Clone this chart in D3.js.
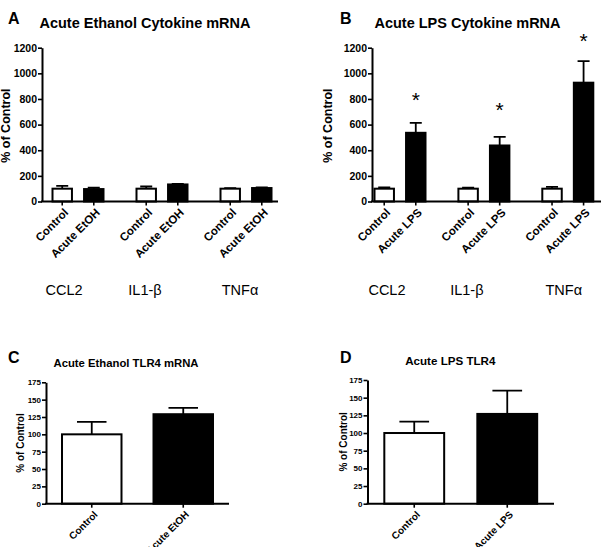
<!DOCTYPE html>
<html>
<head>
<meta charset="utf-8">
<script src="https://cdn.jsdelivr.net/npm/d3@7"></script>
<style>
  html, body { margin: 0; padding: 0; background: #fff; }
  svg { display: block; font-family: "Liberation Sans", Arial, sans-serif; }
</style>
</head>
<body>
<svg id="chart" width="602" height="547"></svg>
<script>
// ---------------- DATA ----------------
const cytokines = ["CCL2", "IL1-β", "TNFα"];
const ethTreatments = ["Control", "Acute EtOH"];
const lpsTreatments = ["Control", "Acute LPS"];
const cytoTicks = [0, 200, 400, 600, 800, 1000, 1200];
const tlrTicks = [0, 25, 50, 75, 100, 125, 150, 175];

// Panel A: acute ethanol cytokine mRNA (% of control) [control, treated] per cytokine
const ethCytoMean = [[100, 97], [100, 133], [100, 105]];
const ethCytoErr  = [[22, 11], [17, 5], [5, 5]];
// Panel B: acute LPS cytokine mRNA
const lpsCytoMean = [[100, 536], [100, 437], [100, 927]];
const lpsCytoErr  = [[10, 78], [8, 68], [14, 169]];
const lpsCytoStar = [818, 740, 1273]; // height of significance asterisk (treated bar)
// Panel C: acute ethanol TLR4 mRNA
const ethTlrMean = [100, 129];
const ethTlrErr  = [18, 9];
// Panel D: acute LPS TLR4
const lpsTlrMean = [100, 127];
const lpsTlrErr  = [16, 33];

// ---------------- DRAW ----------------
const svg = d3.select("#chart");
const FONT = '"Liberation Sans", Arial, sans-serif';
const fmt = d3.format("d");

function styleAxis(g) {
  g.select(".domain").attr("stroke", "#000").attr("stroke-width", 2);
  g.selectAll(".tick line").attr("stroke", "#000").attr("stroke-width", 1.6);
}

function groupedPanel(o) {
  const g = svg.append("g");
  const y = d3.scaleLinear().domain([0, 1200]).range([o.yBottom, o.yTop]);
  const x0 = d3.scaleBand().domain(cytokines).range(o.groupRange).paddingInner(0);
  const x1 = d3.scaleBand().domain(o.treatments).range([15.5, 68.5]).paddingInner(0.32).paddingOuter(0);

  const rows = [];
  cytokines.forEach((c, i) => o.treatments.forEach((t, j) => {
    rows.push({ c, t, j, v: o.mean[i][j], e: o.err[i][j], star: (j === 1 && o.star) ? o.star[i] : null });
  }));
  const bx = d => x0(d.c) + x1(d.t);
  const bw = x1.bandwidth();

  g.selectAll(".err").data(rows).join("path")
    .attr("d", d => {
      const cx = bx(d) + bw / 2, top = y(d.v + d.e), cw = bw * 0.28;
      return `M${cx},${y(d.v)}V${top}M${cx - cw},${top}H${cx + cw}`;
    })
    .attr("stroke", "#000").attr("stroke-width", 1.8).attr("fill", "none");

  g.selectAll(".bar").data(rows).join("rect")
    .attr("x", d => bx(d) + 1).attr("width", bw - 2)
    .attr("y", d => y(d.v)).attr("height", d => y(0) - y(d.v))
    .attr("fill", d => d.j === 0 ? "#fff" : "#000")
    .attr("stroke", "#000").attr("stroke-width", 2);

  g.selectAll(".star").data(rows.filter(d => d.star != null)).join("text")
    .attr("x", d => bx(d) + bw / 2).attr("y", d => y(d.star) + 10)
    .attr("text-anchor", "middle").attr("font-size", 21).attr("font-family", FONT)
    .text("*");

  const ya = g.append("g").attr("transform", `translate(${o.axisX},0)`)
    .call(d3.axisLeft(y).tickValues(cytoTicks).tickFormat(fmt).tickSize(4).tickSizeOuter(0).tickPadding(1));
  styleAxis(ya);
  ya.selectAll("text").attr("font-size", 10.5).attr("font-weight", "bold").attr("font-family", FONT).attr("fill", "#000");

  g.append("line").attr("x1", o.axisX - 1).attr("x2", o.axisEnd)
    .attr("y1", y(0)).attr("y2", y(0)).attr("stroke", "#000").attr("stroke-width", 2);
  g.selectAll(".xt").data(rows).join("line")
    .attr("x1", d => bx(d) + bw / 2).attr("x2", d => bx(d) + bw / 2)
    .attr("y1", y(0)).attr("y2", y(0) + 4).attr("stroke", "#000").attr("stroke-width", 1.6);

  g.selectAll(".xl").data(rows).join("text")
    .attr("transform", d => `translate(${bx(d) + bw / 2 + 4},${y(0) + 9}) rotate(-45)`)
    .attr("text-anchor", "end").attr("dy", "0.35em")
    .attr("font-size", 11.5).attr("font-weight", "bold").attr("font-family", FONT)
    .text(d => d.t);

  g.selectAll(".gl").data(cytokines).join("text")
    .attr("x", (d, i) => x0(d) + x0.bandwidth() / 2 + o.labelShift[i])
    .attr("y", 295)
    .attr("text-anchor", "middle").attr("font-size", 14.5).attr("font-family", FONT)
    .text(d => d);

  g.append("text").attr("transform", `translate(${o.ylabX},${(o.yBottom + o.yTop) / 2 + 1}) rotate(-90)`)
    .attr("text-anchor", "middle").attr("font-size", 12.5).attr("font-weight", "bold").attr("font-family", FONT)
    .text("% of Control");

  g.append("text").attr("x", o.titleX).attr("y", 28).attr("text-anchor", "middle")
    .attr("font-size", 14.5).attr("font-weight", "bold").attr("font-family", FONT).text(o.title);
  g.append("text").attr("x", o.letterX).attr("y", 24)
    .attr("font-size", 16).attr("font-weight", "bold").attr("font-family", FONT).text(o.letter);
}

function simplePanel(o) {
  const g = svg.append("g");
  const y = d3.scaleLinear().domain([0, 175]).range([o.yBottom, o.yTop]);
  const x = d3.scaleBand().domain(o.treatments).range([o.axisX, o.axisEnd]).paddingInner(o.pi).paddingOuter(o.po);
  const bw = x.bandwidth();
  const rows = o.treatments.map((t, j) => ({ t, j, v: o.mean[j], e: o.err[j] }));

  g.selectAll(".err").data(rows).join("path")
    .attr("d", d => {
      const cx = x(d.t) + bw / 2, top = y(d.v + d.e), cw = bw * 0.24;
      return `M${cx},${y(d.v)}V${top}M${cx - cw},${top}H${cx + cw}`;
    })
    .attr("stroke", "#000").attr("stroke-width", 1.8).attr("fill", "none");

  g.selectAll(".bar").data(rows).join("rect")
    .attr("x", d => x(d.t) + 1).attr("width", bw - 2)
    .attr("y", d => y(d.v)).attr("height", d => y(0) - y(d.v))
    .attr("fill", d => d.j === 0 ? "#fff" : "#000")
    .attr("stroke", "#000").attr("stroke-width", 2);

  const ya = g.append("g").attr("transform", `translate(${o.axisX},0)`)
    .call(d3.axisLeft(y).tickValues(tlrTicks).tickFormat(fmt).tickSize(4).tickSizeOuter(0).tickPadding(1));
  styleAxis(ya);
  ya.selectAll("text").attr("font-size", 8).attr("font-weight", "bold").attr("font-family", FONT).attr("fill", "#000");

  g.append("line").attr("x1", o.axisX - 1).attr("x2", o.axisEnd)
    .attr("y1", y(0)).attr("y2", y(0)).attr("stroke", "#000").attr("stroke-width", 2);
  g.selectAll(".xt").data(rows).join("line")
    .attr("x1", d => x(d.t) + bw / 2).attr("x2", d => x(d.t) + bw / 2)
    .attr("y1", y(0)).attr("y2", y(0) + 4).attr("stroke", "#000").attr("stroke-width", 1.6);

  g.selectAll(".xl").data(rows).join("text")
    .attr("transform", d => `translate(${x(d.t) + bw / 2 + 4},${y(0) + 9}) rotate(-45)`)
    .attr("text-anchor", "end").attr("dy", "0.35em")
    .attr("font-size", 10).attr("font-weight", "bold").attr("font-family", FONT)
    .text(d => d.t);

  g.append("text").attr("transform", `translate(${o.ylabX},${(o.yBottom + o.yTop) / 2}) rotate(-90)`)
    .attr("text-anchor", "middle").attr("font-size", 10).attr("font-weight", "bold").attr("font-family", FONT)
    .text("% of Control");

  g.append("text").attr("x", o.titleX).attr("y", o.titleY).attr("text-anchor", "middle")
    .attr("font-size", o.titleSize).attr("font-weight", "bold").attr("font-family", FONT).text(o.title);
  g.append("text").attr("x", o.letterX).attr("y", 363)
    .attr("font-size", 16).attr("font-weight", "bold").attr("font-family", FONT).text(o.letter);
}

groupedPanel({
  letter: "A", letterX: 8, title: "Acute Ethanol Cytokine mRNA", titleX: 145,
  treatments: ethTreatments, mean: ethCytoMean, err: ethCytoErr, star: null,
  axisX: 42, axisEnd: 278, yBottom: 201.5, yTop: 47.7, groupRange: [36, 288],
  labelShift: [-14, -17, -6], ylabX: 10
});
groupedPanel({
  letter: "B", letterX: 340, title: "Acute LPS Cytokine mRNA", titleX: 467.5,
  treatments: lpsTreatments, mean: lpsCytoMean, err: lpsCytoErr, star: lpsCytoStar,
  axisX: 372, axisEnd: 601, yBottom: 201.5, yTop: 47.7, groupRange: [358, 609.7],
  labelShift: [-13, -17, -4], ylabX: 331.5
});
simplePanel({
  letter: "C", letterX: 8, title: "Acute Ethanol TLR4 mRNA", titleX: 126, titleY: 366.7, titleSize: 11.3,
  treatments: ethTreatments, mean: ethTlrMean, err: ethTlrErr,
  axisX: 46, axisEnd: 229, pi: 0.328, po: 0.164, yBottom: 503.7, yTop: 382.3, ylabX: 24
});
simplePanel({
  letter: "D", letterX: 340, title: "Acute LPS TLR4", titleX: 450.3, titleY: 365, titleSize: 11.6,
  treatments: lpsTreatments, mean: lpsTlrMean, err: lpsTlrErr,
  axisX: 367.5, axisEnd: 554, pi: 0.335, po: 0.17, yBottom: 503.7, yTop: 380, ylabX: 346.5
});
</script>
</body>
</html>
